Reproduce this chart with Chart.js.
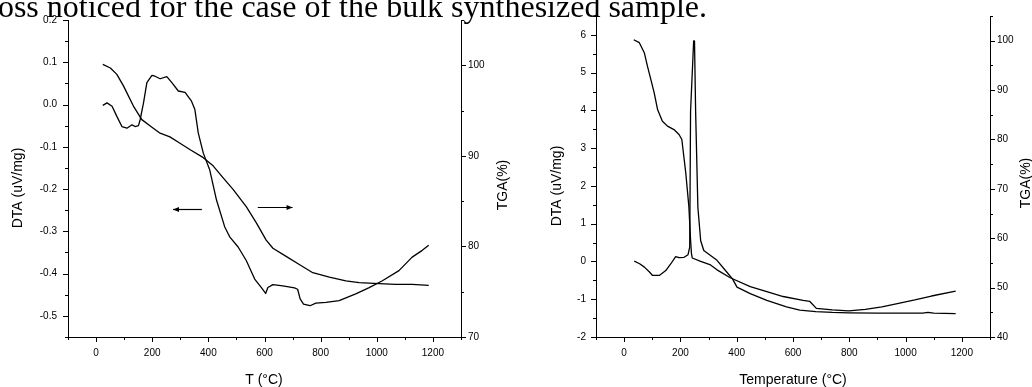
<!DOCTYPE html>
<html>
<head>
<meta charset="utf-8">
<script src="https://cdn.jsdelivr.net/npm/chart.js@4.4.1/dist/chart.umd.min.js"></script>
<style>
  body { margin: 0; width: 1032px; height: 387px; overflow: hidden; background: #fff; position: relative; }
  .box { position: absolute; top: 0; width: 516px; height: 387px; }
  #caption { position: absolute; left: -11px; top: -10px; font: 32px/32px "Liberation Serif", "Times New Roman", serif; white-space: nowrap; color: #000; }
</style>
</head>
<body>
<div class="box" style="left:0"><canvas id="c1" width="516" height="387"></canvas></div>
<div class="box" style="left:516px"><canvas id="c2" width="516" height="387"></canvas></div>
<div id="caption">loss noticed for the case of the bulk synthesized sample.</div>
<script>
// left panel: DTA (uV/mg) and TGA (%) against T (°C)
const tDta1 = [24, 39, 57, 74, 92, 110, 128, 139, 151, 157, 169, 181, 199, 210, 228, 252, 270, 293, 317, 340, 352, 364, 382, 405, 429, 458, 476, 506, 535, 565, 589, 604, 612, 630, 665, 707, 718, 727, 739, 762, 783, 819, 866, 925, 973, 1020, 1079, 1126, 1162, 1185];
const dta1 = [-0.002, 0.004, -0.004, -0.028, -0.052, -0.056, -0.048, -0.052, -0.05, -0.036, 0.004, 0.052, 0.069, 0.067, 0.061, 0.066, 0.052, 0.032, 0.029, 0.008, -0.012, -0.067, -0.115, -0.155, -0.226, -0.289, -0.313, -0.337, -0.369, -0.413, -0.433, -0.447, -0.433, -0.426, -0.429, -0.434, -0.437, -0.46, -0.472, -0.476, -0.47, -0.468, -0.464, -0.448, -0.433, -0.417, -0.393, -0.361, -0.345, -0.333];
const tTga1 = [24, 51, 74, 98, 133, 163, 193, 228, 263, 299, 334, 382, 417, 452, 488, 535, 571, 606, 630, 677, 724, 772, 831, 890, 937, 1008, 1067, 1126, 1185];
const tga1 = [100.1, 99.7, 99.0, 97.7, 95.5, 94.0, 93.3, 92.5, 92.1, 91.4, 90.7, 89.8, 88.9, 87.6, 86.3, 84.4, 82.6, 80.7, 79.8, 78.9, 78.0, 77.1, 76.6, 76.2, 76.0, 75.9, 75.8, 75.8, 75.7];
// arrows pointing to the axis of each curve
const arrowFrom = [377, 576];
const arrowTo = [274, 700];
const arrowLevel = [-0.248, -0.243];

// right panel: DTA (uV/mg) and TGA (%) against Temperature (°C)
const tDta2 = [36, 55, 72, 90, 101, 125, 148, 166, 183, 195, 213, 227, 233, 236, 247, 250, 254, 262, 272, 283, 307, 330, 360, 385, 401, 448, 507, 577, 624, 681, 740, 798, 900, 1000, 1060, 1080, 1100, 1178];
const dta2 = [0.01, -0.06, -0.15, -0.28, -0.37, -0.37, -0.24, -0.06, 0.13, 0.10, 0.11, 0.18, 0.38, 3.97, 5.84, 5.84, 3.97, 1.43, 0.55, 0.29, 0.16, 0.03, -0.24, -0.46, -0.68, -0.85, -1.03, -1.20, -1.29, -1.33, -1.35, -1.36, -1.37, -1.37, -1.37, -1.35, -1.37, -1.38];
const tTga2 = [34, 54, 72, 83, 95, 107, 119, 136, 154, 177, 195, 205, 219, 230, 236, 239, 242, 272, 307, 330, 377, 448, 507, 565, 636, 660, 683, 740, 798, 857, 916, 975, 1033, 1092, 1178];
const tga2 = [100.2, 99.6, 97.5, 94.8, 92.1, 89.4, 86.0, 83.7, 82.7, 82.0, 81.0, 80.0, 73.2, 66.4, 59.7, 57.0, 56.0, 55.3, 54.6, 53.6, 52.0, 50.2, 49.2, 48.2, 47.4, 47.2, 45.8, 45.5, 45.3, 45.6, 46.1, 46.8, 47.5, 48.3, 49.3];

const FONT = '"Liberation Sans", Arial, sans-serif';

function pts(xs, ys) {
  return xs.map((x, i) => ({ x: x, y: ys[i] }));
}

// short ticks for minor values, longer ones for labelled values
const tickMarks = {
  id: 'tickMarks',
  afterDraw(chart) {
    const ctx = chart.ctx, a = chart.chartArea;
    ctx.save();
    ctx.strokeStyle = '#000';
    ctx.lineWidth = 1;
    Object.values(chart.scales).forEach(s => {
      s.ticks.forEach(t => {
        const len = t.label === '' ? 3 : 5;
        const p = Math.round(s.getPixelForValue(t.value)) + 0.5;
        ctx.beginPath();
        if (s.axis === 'x') {
          ctx.moveTo(p, a.bottom); ctx.lineTo(p, a.bottom + len);
        } else if (s.position === 'left') {
          ctx.moveTo(a.left, p); ctx.lineTo(a.left - len, p);
        } else {
          ctx.moveTo(a.right, p); ctx.lineTo(a.right + len, p);
        }
        ctx.stroke();
      });
    });
    ctx.restore();
  }
};

function axisTitles(items) {
  return {
    id: 'axisTitles',
    afterDraw(chart) {
      const ctx = chart.ctx;
      ctx.save();
      ctx.fillStyle = '#000';
      ctx.font = '14px ' + FONT;
      ctx.textAlign = 'center';
      ctx.textBaseline = 'middle';
      items.forEach(it => {
        ctx.save();
        ctx.translate(it.x, it.y);
        if (it.rot) ctx.rotate(-Math.PI / 2);
        ctx.fillText(it.text, 0, 0);
        ctx.restore();
      });
      ctx.restore();
    }
  };
}

const arrows = {
  id: 'arrows',
  afterDatasetsDraw(chart) {
    const xs = chart.scales.x, ys = chart.scales.y, ctx = chart.ctx;
    ctx.save();
    ctx.strokeStyle = '#000';
    ctx.fillStyle = '#000';
    ctx.lineWidth = 1.2;
    arrowFrom.forEach((f, i) => {
      const x0 = xs.getPixelForValue(f), x1 = xs.getPixelForValue(arrowTo[i]);
      const py = Math.round(ys.getPixelForValue(arrowLevel[i])) + 0.5;
      const dir = x1 > x0 ? 1 : -1;
      ctx.beginPath();
      ctx.moveTo(x0, py); ctx.lineTo(x1, py);
      ctx.stroke();
      ctx.beginPath();
      ctx.moveTo(x1, py);
      ctx.lineTo(x1 - dir * 6, py - 2.5);
      ctx.lineTo(x1 - dir * 6, py + 2.5);
      ctx.closePath();
      ctx.fill();
    });
    ctx.restore();
  }
};

function fixedWidth(w) { return s => { s.width = w; }; }
function fixedHeight(h) { return s => { s.height = h; }; }

function makeChart(id, cfg) {
  const tickFont = { family: FONT, size: 10 };
  const lineStyle = { borderColor: '#000', borderWidth: 1.3, pointRadius: 0, tension: 0, fill: false, borderJoinStyle: 'round' };
  return new Chart(document.getElementById(id), {
    type: 'line',
    data: {
      datasets: [
        Object.assign({ label: 'DTA', data: pts(cfg.tDta, cfg.dta), yAxisID: 'y' }, lineStyle),
        Object.assign({ label: 'TGA', data: pts(cfg.tTga, cfg.tga), yAxisID: 'y1' }, lineStyle)
      ]
    },
    options: {
      responsive: false,
      animation: false,
      devicePixelRatio: 1,
      layout: { padding: { top: cfg.top, left: 0, right: 0, bottom: 0 } },
      plugins: { legend: { display: false }, tooltip: { enabled: false } },
      scales: {
        x: {
          type: 'linear', min: -100, max: 1300,
          grid: { display: false, drawTicks: false },
          border: { display: true, color: '#000', width: 1 },
          ticks: { stepSize: 100, autoSkip: false, maxRotation: 0, padding: 10, color: '#000', font: tickFont,
            callback: v => (v % 200 === 0 ? String(v) : '') },
          afterFit: fixedHeight(50)
        },
        y: {
          position: 'left', min: cfg.yMin, max: cfg.yMax,
          grid: { display: false, drawTicks: false },
          border: { display: true, color: '#000', width: 1 },
          ticks: { stepSize: cfg.yStep, autoSkip: false, padding: cfg.yPad, color: '#000', font: tickFont, callback: cfg.yLabel },
          afterFit: fixedWidth(cfg.leftW)
        },
        y1: {
          position: 'right', min: cfg.y1Min, max: cfg.y1Max,
          grid: { display: false, drawTicks: false },
          border: { display: true, color: '#000', width: 1 },
          ticks: { stepSize: 5, autoSkip: false, padding: 7, color: '#000', font: tickFont,
            callback: v => (v % 10 === 0 ? String(v) : '') },
          afterFit: fixedWidth(cfg.rightW)
        }
      }
    },
    plugins: [tickMarks, axisTitles(cfg.titles)].concat(cfg.extra || [])
  });
}

makeChart('c1', {
  tDta: tDta1, dta: dta1, tTga: tTga1, tga: tga1,
  top: 20, leftW: 68, rightW: 55,
  yMin: -0.55, yMax: 0.2, yStep: 0.05, yPad: 11,
  yLabel: v => (Math.abs(Math.round(v * 100)) % 10 === 0 ? v.toFixed(1) : ''),
  y1Min: 70, y1Max: 105,
  titles: [
    { text: 'DTA (uV/mg)', x: 18, y: 188, rot: true },
    { text: 'TGA(%)', x: 503, y: 185, rot: true },
    { text: 'T (°C)', x: 264, y: 380 }
  ],
  extra: [arrows]
});

makeChart('c2', {
  tDta: tDta2, dta: dta2, tTga: tTga2, tga: tga2,
  top: 15, leftW: 80, rightW: 42,
  yMin: -2, yMax: 6.5, yStep: 0.5, yPad: 10,
  yLabel: v => (Number.isInteger(v) ? String(v) : ''),
  y1Min: 40, y1Max: 105,
  titles: [
    { text: 'DTA (uV/mg)', x: 41, y: 186, rot: true },
    { text: 'TGA(%)', x: 510, y: 183, rot: true },
    { text: 'Temperature (°C)', x: 277, y: 380 }
  ]
});
</script>
</body>
</html>
